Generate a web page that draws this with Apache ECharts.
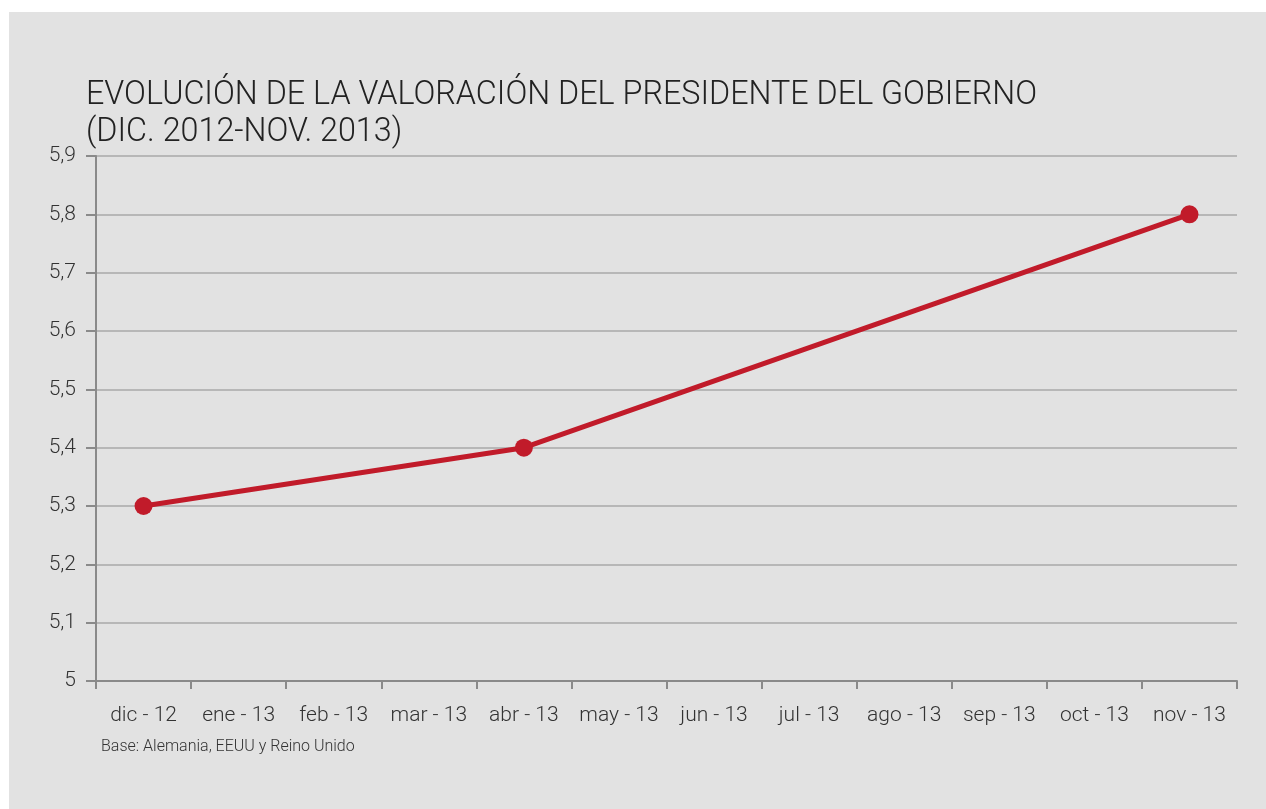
<!DOCTYPE html>
<html>
<head>
<meta charset="utf-8">
<script src="https://cdn.jsdelivr.net/npm/echarts@6/dist/echarts.min.js"></script>
<style>
html,body{margin:0;padding:0;background:#ffffff;}
#wrap{position:absolute;left:9px;top:12px;width:1257px;height:797px;background:#e2e2e2;}
#chart{width:1257px;height:797px;}
</style>
</head>
<body>
<div id="wrap"><div id="chart"></div></div>
<script>
var categories = ['dic - 12','ene - 13','feb - 13','mar - 13','abr - 13','may - 13','jun - 13','jul - 13','ago - 13','sep - 13','oct - 13','nov - 13'];
var valoracion = [5.3, null, null, null, 5.4, null, null, null, null, null, null, 5.8];
var yMin = 5, yMax = 5.9, yStep = 0.1;
var titleText = 'EVOLUCIÓN DE LA VALORACIÓN DEL PRESIDENTE DEL GOBIERNO\n(DIC. 2012-NOV. 2013)';
var footnote = 'Base: Alemania, EEUU y Reino Unido';

var chart = echarts.init(document.getElementById('chart'), null, {renderer:'canvas'});
chart.setOption({
  backgroundColor: '#e2e2e2',
  animation: false,
  title: {
    text: titleText,
    left: 72, top: 60,
    textStyle: {fontFamily:'Roboto', fontWeight:300, fontSize:32.3, color:'#222', lineHeight:37}
  },
  grid: {left: 87, right: 29, top: 144, bottom: 128, containLabel:false},
  xAxis: {
    type:'category',
    data: categories,
    boundaryGap: true,
    axisLine: {lineStyle:{color:'#8a8a8a', width:2}},
    axisTick: {show:true, interval:0, length:8, lineStyle:{color:'#8a8a8a', width:2}},
    axisLabel: {interval:0, hideOverlap:false, fontFamily:'Roboto', fontWeight:300, fontSize:21, color:'#333', margin:24}
  },
  yAxis: {
    type:'value',
    min: yMin, max: yMax, interval: yStep,
    axisLine: {show:true, lineStyle:{color:'#8a8a8a', width:2}},
    axisTick: {show:true, length:10, lineStyle:{color:'#8a8a8a', width:2}},
    splitLine: {show:true, lineStyle:{color:'#a8a8a8', width:1.5}},
    axisLabel: {
      fontFamily:'Roboto', fontWeight:300, fontSize:21, color:'#333', margin:20,
      formatter: function(v){ return (Math.round(v*10)/10).toString().replace('.', ','); }
    }
  },
  graphic: [{
    type:'text', left: 92, top: 727,
    style:{text: footnote, font:'300 16px Roboto', fill:'#333'}
  }],
  series: [{
    type:'line',
    data: valoracion,
    connectNulls: true,
    symbol:'circle',
    symbolSize: 18,
    lineStyle:{color:'#c11b2a', width:5},
    itemStyle:{color:'#c11b2a'}
  }]
});
</script>
</body>
</html>
